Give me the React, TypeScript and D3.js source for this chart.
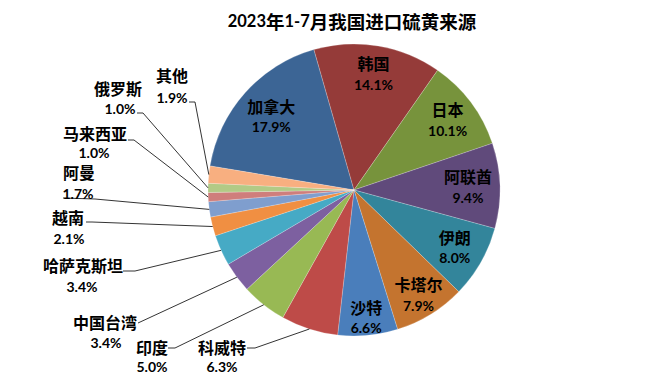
import React from "react";
import * as d3 from "d3";

const TITLE_PARTS = [
  { t: "2023", cjk: false },
  { t: "年", cjk: true },
  { t: "1-7", cjk: false },
  { t: "月我国进口硫黄来源", cjk: true },
];

const countries = [
  "加拿大", "韩国", "日本", "阿联酋", "伊朗", "卡塔尔", "沙特", "科威特",
  "印度", "中国台湾", "哈萨克斯坦", "越南", "阿曼", "马来西亚", "俄罗斯", "其他",
];
const shares = [17.9, 14.1, 10.1, 9.4, 8.0, 7.9, 6.6, 6.3, 5.0, 3.4, 3.4, 2.1, 1.7, 1.0, 1.0, 1.9];
const colors = [
  "#3C6595", "#953B39", "#77933C", "#604A7B", "#33859B", "#C4742F", "#4A7EBB", "#BE4B48",
  "#98B954", "#7D60A0", "#46AAC5", "#F08F42", "#7F9ECE", "#CF7E7C", "#B2CA86", "#F8AF80",
];

// layout (not data)
const W = 659, H = 378;
const CX = 354, CY = 190, R = 146;
const START_DEG = -80.5;

type Inside = { kind: "in"; r: number };
type Outside = {
  kind: "out";
  x1: number; y1: number; x2: number; y2: number;
  leader: [number, number][];
};
const labelLayout: Record<string, Inside | Outside> = {
  "加拿大": { kind: "in", r: 111 },
  "韩国": { kind: "in", r: 118 },
  "日本": { kind: "in", r: 117 },
  "阿联酋": { kind: "in", r: 114 },
  "伊朗": { kind: "in", r: 116 },
  "卡塔尔": { kind: "in", r: 123 },
  "沙特": { kind: "in", r: 128 },
  "科威特": { kind: "out", x1: 222, y1: 347, x2: 222, y2: 366, leader: [[247, 348], [255, 348]] },
  "印度": { kind: "out", x1: 152, y1: 347, x2: 152, y2: 366, leader: [[168, 348], [175, 348]] },
  "中国台湾": { kind: "out", x1: 105, y1: 322, x2: 106, y2: 342, leader: [[138, 323]] },
  "哈萨克斯坦": { kind: "out", x1: 83, y1: 265, x2: 82, y2: 286, leader: [[123, 271], [135, 271]] },
  "越南": { kind: "out", x1: 68, y1: 217, x2: 69, y2: 238, leader: [[86, 222], [92, 222]] },
  "阿曼": { kind: "out", x1: 79, y1: 172, x2: 78, y2: 193, leader: [[63, 198], [95, 199]] },
  "马来西亚": { kind: "out", x1: 95, y1: 133, x2: 94, y2: 152, leader: [[128, 140], [134, 140]] },
  "俄罗斯": { kind: "out", x1: 118, y1: 88, x2: 120, y2: 108, leader: [[137, 113], [143, 113]] },
  "其他": { kind: "out", x1: 172, y1: 75, x2: 172, y2: 97, leader: [[189, 102], [195, 102]] },
};

const CJK = "'Noto Sans CJK SC', sans-serif";
const NUM = "Lato, 'Noto Sans CJK SC', sans-serif";

export default function App() {
  const data = countries.map((c, i) => ({ name: c, value: shares[i], color: colors[i] }));
  const start = (START_DEG * Math.PI) / 180;
  const pie = d3
    .pie<{ name: string; value: number; color: string }>()
    .value((d) => d.value)
    .sort(null)
    .startAngle(start)
    .endAngle(start + Math.PI * 2);
  const arcs = pie(data);
  const arcGen = d3.arc<d3.PieArcDatum<any>>().innerRadius(0).outerRadius(R);

  const polar = (ang: number, r: number): [number, number] => [
    CX + r * Math.sin(ang),
    CY - r * Math.cos(ang),
  ];

  return (
    <svg
      width={W}
      height={H}
      viewBox={`0 0 ${W} ${H}`}
      style={{ position: "absolute", left: 0, top: 0, background: "#fff" }}
    >
      <rect x={0} y={0} width={W} height={H} fill="#fff" />
      <text x={352} y={21} textAnchor="middle" dominantBaseline="central" fontWeight="bold" fill="#000">
        {TITLE_PARTS.map((p, i) => (
          <tspan key={i} fontFamily={p.cjk ? CJK : NUM} fontSize={p.cjk ? 18.5 : 16.5}>
            {p.t}
          </tspan>
        ))}
      </text>
      <g transform={`translate(${CX},${CY})`}>
        {arcs.map((a, i) => (
          <path
            key={i}
            d={arcGen(a) || ""}
            fill={a.data.color}
            stroke="#ffffff"
            strokeOpacity={0.35}
            strokeWidth={0.6}
          />
        ))}
      </g>
      {arcs.map((a, i) => {
        const lay = labelLayout[a.data.name];
        const mid = (a.startAngle + a.endAngle) / 2;
        const pct = a.data.value.toFixed(1) + "%";
        if (lay.kind === "in") {
          const [x, y] = polar(mid, lay.r);
          return (
            <g key={"l" + i}>
              <text x={x} y={y - 10.5} textAnchor="middle" dominantBaseline="central"
                fontFamily={CJK} fontSize={16} fontWeight="bold" fill="#000">
                {a.data.name}
              </text>
              <text x={x} y={y + 10.5} textAnchor="middle" dominantBaseline="central"
                fontFamily={NUM} fontSize={14} fontWeight="bold" fill="#000">
                {pct}
              </text>
            </g>
          );
        }
        const edge = polar(mid, R);
        const pts = [...lay.leader, edge];
        return (
          <g key={"l" + i}>
            <polyline
              points={pts.map((p) => p.join(",")).join(" ")}
              fill="none"
              stroke="#000"
              strokeWidth={0.8}
            />
            <text x={lay.x1} y={lay.y1} textAnchor="middle" dominantBaseline="central"
              fontFamily={CJK} fontSize={16} fontWeight="bold" fill="#000">
              {a.data.name}
            </text>
            <text x={lay.x2} y={lay.y2} textAnchor="middle" dominantBaseline="central"
              fontFamily={NUM} fontSize={14} fontWeight="bold" fill="#000">
              {pct}
            </text>
          </g>
        );
      })}
    </svg>
  );
}
